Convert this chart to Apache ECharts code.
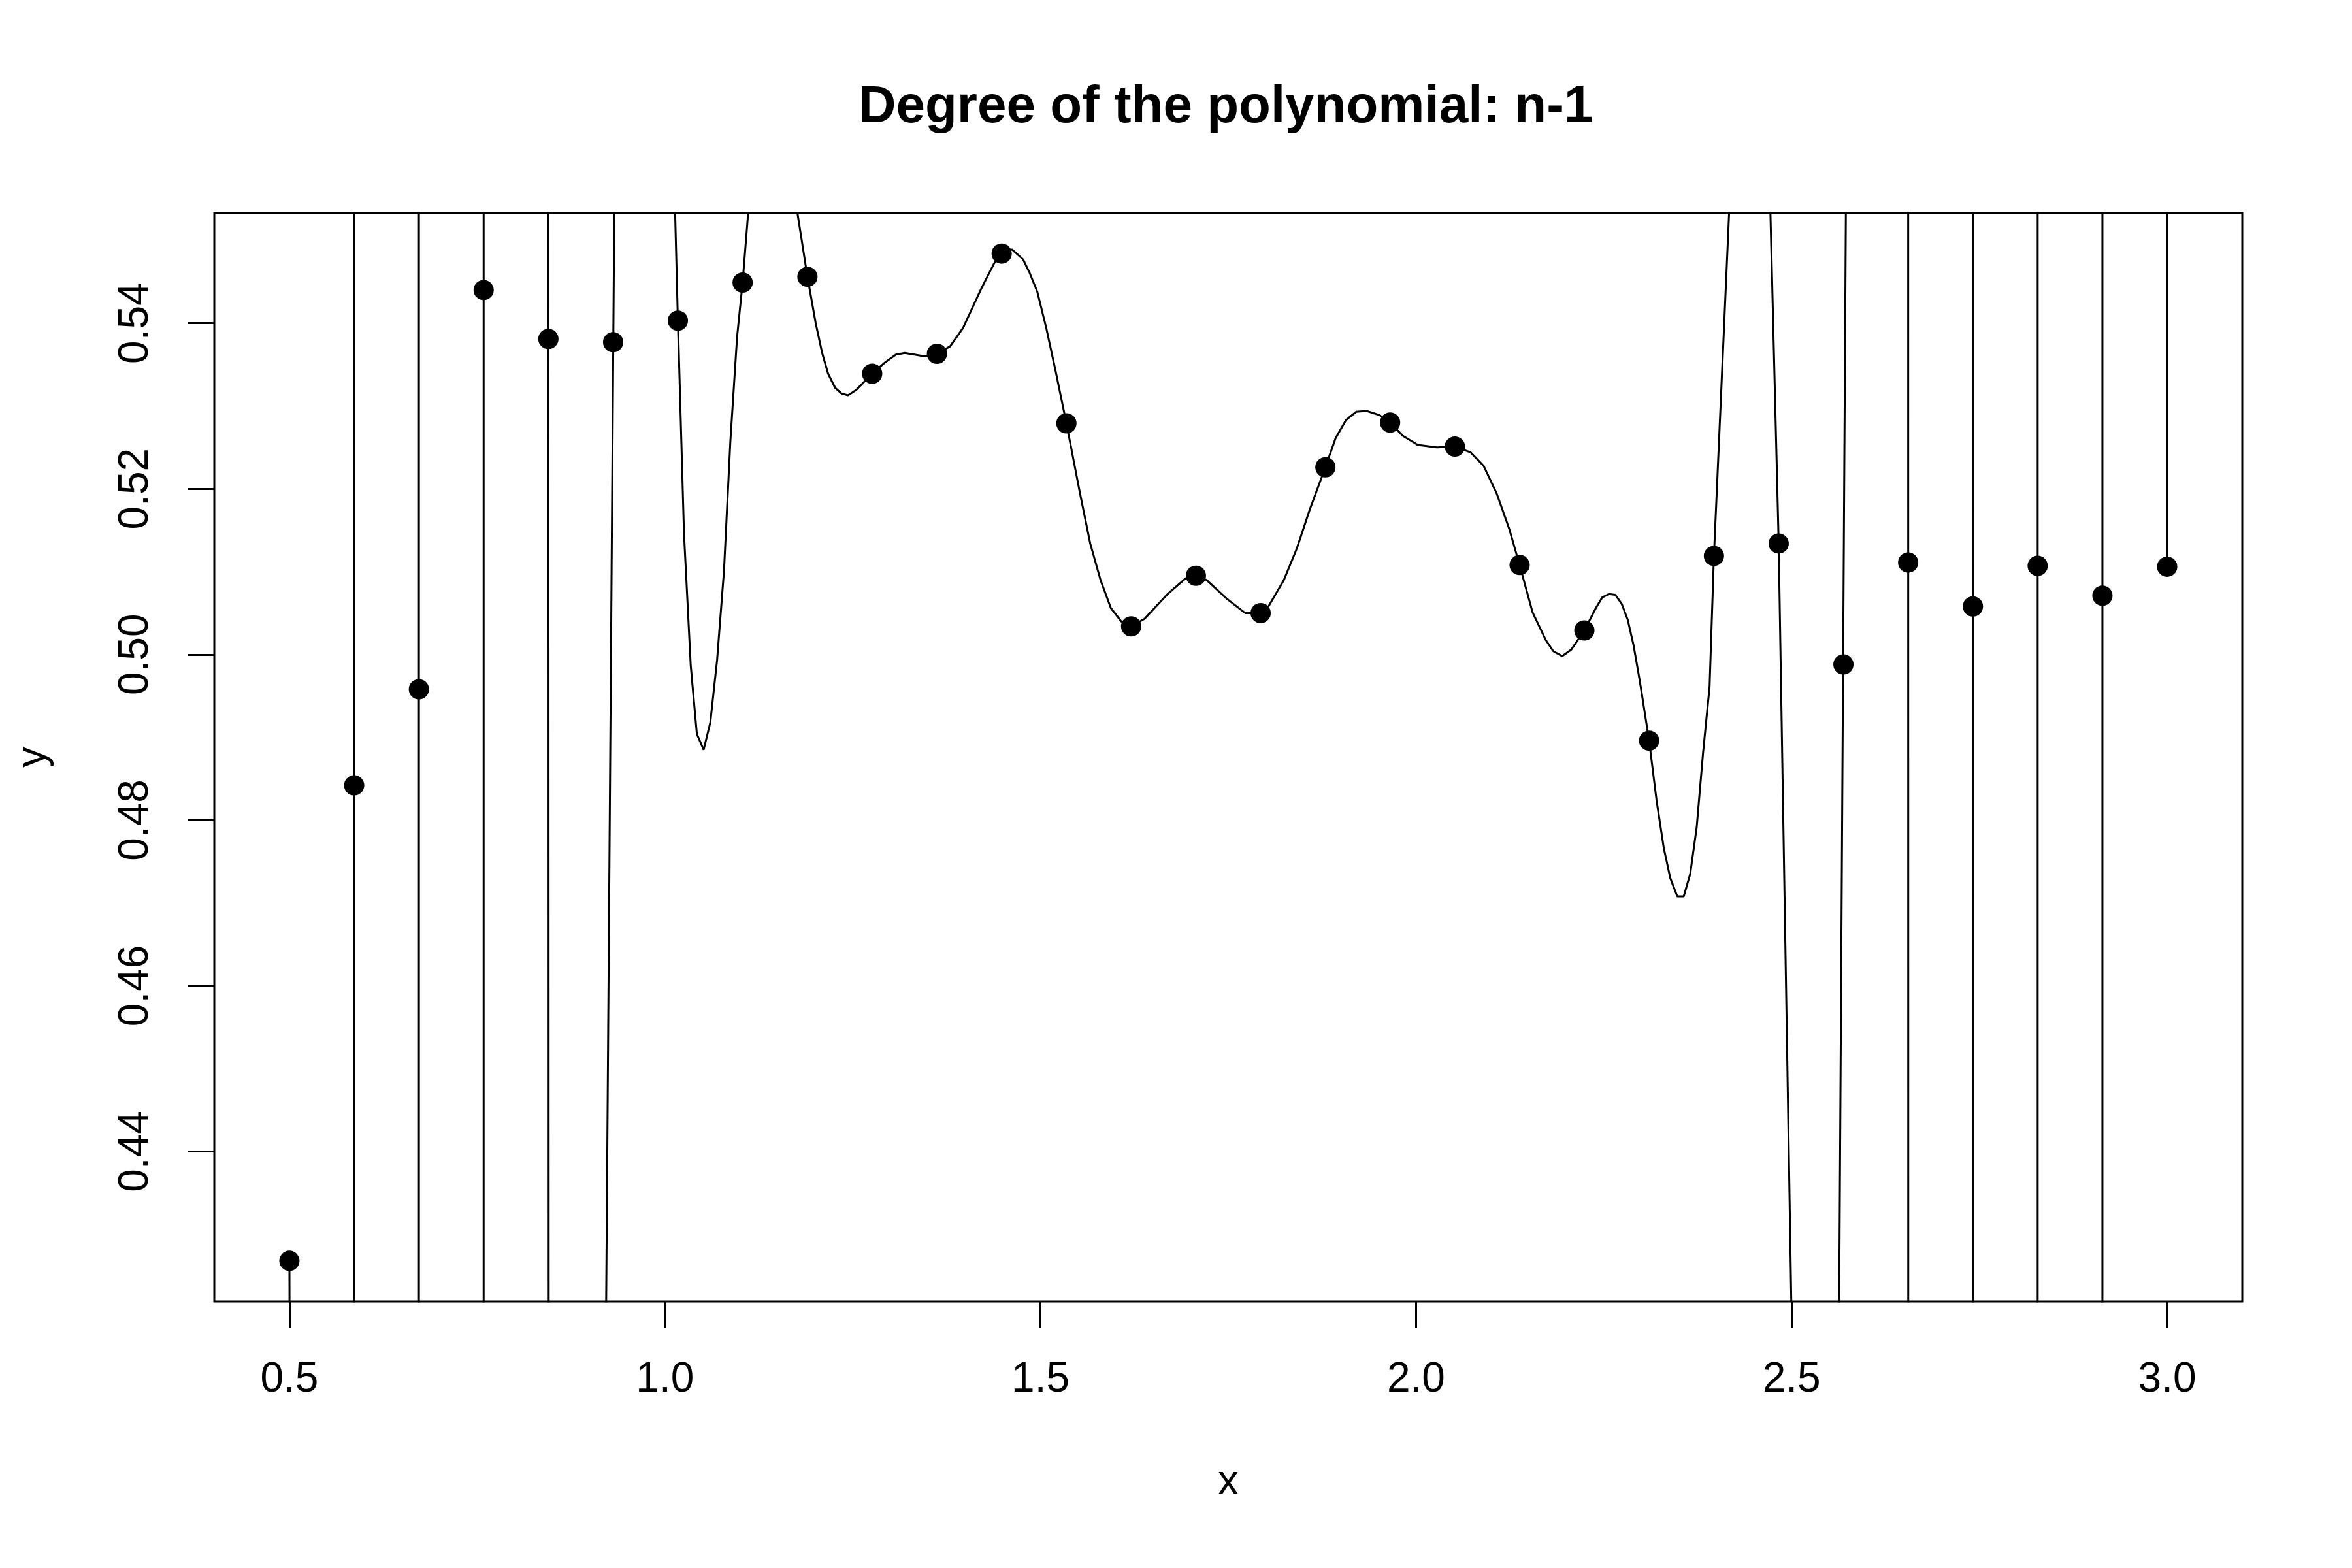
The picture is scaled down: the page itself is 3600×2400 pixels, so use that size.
<!DOCTYPE html>
<html>
<head>
<meta charset="utf-8">
<script src="https://cdn.jsdelivr.net/npm/echarts@6/dist/echarts.min.js"></script>
<style>
  html, body { margin: 0; padding: 0; background: #ffffff; }
  #chart { width: 3600px; height: 2400px; }
</style>
</head>
<body>
<div id="chart"></div>
<script>
// ---- data ----
const titleText = 'Degree of the polynomial: n-1';
const xTicks = [0.5, 1.0, 1.5, 2.0, 2.5, 3.0];
const yTicks = [0.44, 0.46, 0.48, 0.50, 0.52, 0.54];

// observed points
const nodeX = [0.5, 0.5862, 0.6724, 0.7586, 0.8448, 0.9310, 1.0172, 1.1034, 1.1897, 1.2759,
               1.3621, 1.4483, 1.5345, 1.6207, 1.7069, 1.7931, 1.8793, 1.9655, 2.0517, 2.1379,
               2.2241, 2.3103, 2.3966, 2.4828, 2.5690, 2.6552, 2.7414, 2.8276, 2.9138, 3.0];
const nodeY = [0.4268, 0.4842, 0.4958, 0.5440, 0.5381, 0.5377, 0.5403, 0.5449, 0.5456, 0.5339,
               0.5363, 0.5484, 0.5279, 0.5034, 0.5095, 0.5050, 0.5226, 0.5280, 0.5251, 0.5108,
               0.5029, 0.4896, 0.5119, 0.5134, 0.4988, 0.5111, 0.5058, 0.5107, 0.5071, 0.5106];

// interpolating polynomial as drawn (values beyond the plot are clipped)
const curveX = [0.5000, 0.5002, 0.5862, 0.5862, 0.6724, 0.6724, 0.7586, 0.7586, 0.8448, 0.8452,
                0.9214, 0.9328, 1.0125, 1.0172, 1.0254, 1.0343, 1.0425, 1.0515, 1.0604, 1.0694,
                1.0786, 1.0870, 1.0960, 1.1034, 1.1140, 1.1700, 1.1897, 1.2007, 1.2093, 1.2172,
                1.2266, 1.2352, 1.2438, 1.2541, 1.2759, 1.2936, 1.3074, 1.3193, 1.3452, 1.3621,
                1.3796, 1.3968, 1.4208, 1.4381, 1.4483, 1.4621, 1.4768, 1.4854, 1.4957, 1.5077,
                1.5197, 1.5345, 1.5525, 1.5662, 1.5799, 1.5937, 1.6075, 1.6207, 1.6384, 1.6693,
                1.6934, 1.7069, 1.7210, 1.7485, 1.7726, 1.7931, 1.8035, 1.8241, 1.8413, 1.8585,
                1.8793, 1.8929, 1.9067, 1.9204, 1.9342, 1.9514, 1.9655, 1.9824, 2.0023, 2.0280,
                2.0517, 2.0726, 2.0898, 2.1071, 2.1243, 2.1379, 2.1551, 2.1724, 2.1827, 2.1947,
                2.2068, 2.2241, 2.2394, 2.2480, 2.2567, 2.2653, 2.2739, 2.2818, 2.2894, 2.2979,
                2.3103, 2.3202, 2.3299, 2.3385, 2.3478, 2.3564, 2.3650, 2.3736, 2.3822, 2.3908,
                2.3966, 2.4186, 2.4708, 2.4828, 2.5003, 2.5631, 2.5725, 2.6552, 2.6553, 2.7414,
                2.7414, 2.8276, 2.8276, 2.9138, 2.9138, 3.0000, 3.0000];
const curveY = [0.4268, 0.418, 0.418, 0.557, 0.557, 0.418, 0.418, 0.557, 0.557, 0.418,
                0.418, 0.557, 0.557, 0.5403, 0.5145, 0.4987, 0.4904, 0.4885, 0.4918, 0.4993,
                0.5101, 0.5256, 0.5383, 0.5449, 0.557, 0.557, 0.5456, 0.5400, 0.5364, 0.5339,
                0.5322, 0.5315, 0.5313, 0.5319, 0.5339, 0.5353, 0.5362, 0.5364, 0.5360, 0.5363,
                0.5372, 0.5394, 0.5441, 0.5472, 0.5484, 0.5489, 0.5477, 0.5461, 0.5438, 0.5394,
                0.5344, 0.5279, 0.5195, 0.5134, 0.5090, 0.5056, 0.5040, 0.5034, 0.5043, 0.5073,
                0.5092, 0.5095, 0.5090, 0.5067, 0.5050, 0.5050, 0.5058, 0.5090, 0.5128, 0.5175,
                0.5226, 0.5261, 0.5283, 0.5293, 0.5294, 0.5289, 0.5280, 0.5264, 0.5253, 0.5250,
                0.5251, 0.5244, 0.5228, 0.5195, 0.5151, 0.5108, 0.5051, 0.5018, 0.5004, 0.4998,
                0.5006, 0.5029, 0.5056, 0.5069, 0.5073, 0.5072, 0.5061, 0.5042, 0.5012, 0.4968,
                0.4896, 0.4824, 0.4766, 0.4730, 0.4708, 0.4708, 0.4735, 0.4791, 0.4882, 0.4961,
                0.5119, 0.557, 0.557, 0.5134, 0.418, 0.418, 0.557, 0.557, 0.418, 0.418,
                0.557, 0.557, 0.418, 0.418, 0.557, 0.557, 0.5106];

// ---- build chart ----
const FONT = '"Liberation Sans", Arial, Helvetica, sans-serif';
const points = nodeX.map((x, i) => [x, nodeY[i]]);
const curve = curveX.map((x, i) => [x, curveY[i]]);

const chart = echarts.init(document.getElementById('chart'), null, { renderer: 'canvas' });
chart.setOption({
  animation: false,
  backgroundColor: '#ffffff',
  title: {
    text: titleText,
    left: 1876,
    top: 125,
    padding: 0,
    textAlign: 'center',
    textStyle: { fontFamily: FONT, fontSize: 80, fontWeight: 'bold', color: '#000' }
  },
  grid: {
    left: 328, right: 168, top: 326, bottom: 408,
    show: true, borderColor: '#000', borderWidth: 3, backgroundColor: 'transparent',
    containLabel: false, outerBoundsMode: 'none'
  },
  xAxis: {
    type: 'value', min: 0.4, max: 3.1,
    name: 'x', nameLocation: 'middle', nameGap: 245,
    nameTextStyle: { fontFamily: FONT, fontSize: 64, color: '#000' },
    axisLine: { show: false },
    splitLine: { show: false },
    axisTick: { show: true, length: 40, customValues: xTicks, lineStyle: { color: '#000', width: 3 } },
    axisLabel: { customValues: xTicks, margin: 88, fontFamily: FONT, fontSize: 64, color: '#000',
                 formatter: v => v.toFixed(1) }
  },
  yAxis: {
    type: 'value', min: 0.4219, max: 0.5533,
    name: 'y', nameLocation: 'middle', nameGap: 245, nameRotate: 90,
    nameTextStyle: { fontFamily: FONT, fontSize: 64, color: '#000' },
    axisLine: { show: false },
    splitLine: { show: false },
    axisTick: { show: true, length: 40, customValues: yTicks, lineStyle: { color: '#000', width: 3 } },
    axisLabel: { customValues: yTicks, margin: 88, rotate: 90, fontFamily: FONT, fontSize: 64, color: '#000',
                 formatter: v => v.toFixed(2) }
  },
  series: [
    {
      type: 'line', data: curve, showSymbol: false, clip: true, smooth: false,
      lineStyle: { color: '#000', width: 3 }, z: 2
    },
    {
      type: 'scatter', data: points, symbol: 'circle', symbolSize: 31,
      itemStyle: { color: '#000', opacity: 1 }, z: 3
    }
  ]
});
</script>
</body>
</html>
